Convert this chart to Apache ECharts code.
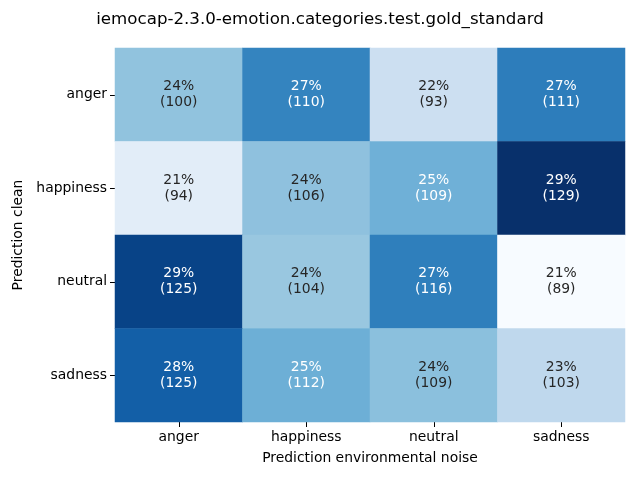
<!DOCTYPE html>
<html><head><meta charset="utf-8">
<script src="https://cdn.jsdelivr.net/npm/echarts@6/dist/echarts.min.js"></script>
<style>html,body{margin:0;padding:0;background:#fff}#c{width:640px;height:480px}</style>
</head><body><div id="c"></div>
<script>
const title = "iemocap-2.3.0-emotion.categories.test.gold_standard";
const xCategories = ["anger", "happiness", "neutral", "sadness"];
const yCategories = ["anger", "happiness", "neutral", "sadness"];
const xLabel = "Prediction environmental noise";
const yLabel = "Prediction clean";
// counts per row (Prediction clean) and column (Prediction environmental noise)
const countsAnger = [100, 110, 93, 111];
const countsHappiness = [94, 106, 109, 129];
const countsNeutral = [125, 104, 116, 89];
const countsSadness = [125, 112, 109, 103];
const pctAnger = [24, 27, 22, 27];
const pctHappiness = [21, 24, 25, 29];
const pctNeutral = [29, 24, 27, 21];
const pctSadness = [28, 25, 24, 23];

const rows = [countsAnger, countsHappiness, countsNeutral, countsSadness];
const pctRows = [pctAnger, pctHappiness, pctNeutral, pctSadness];
const blues = ['#f7fbff','#deebf7','#c6dbef','#9ecae1','#6baed6','#4292c6','#2171b5','#08519c','#08306b'];

const data = [];
let vmin = Infinity, vmax = -Infinity;
rows.forEach((r, yi) => {
  const tot = r.reduce((a, b) => a + b, 0);
  r.forEach((c, xi) => {
    const share = 100 * c / tot;
    vmin = Math.min(vmin, share); vmax = Math.max(vmax, share);
    data.push({xi, yi, share, c, pct: pctRows[yi][xi]});
  });
});
const seriesData = data.map(d => {
  const t = (d.share - vmin) / (vmax - vmin);
  return {
    value: [d.xi, d.yi, d.share],
    label: {color: t > 0.45 ? '#ffffff' : '#262626', formatter: d.pct + '%\n(' + d.c + ')'}
  };
});

const FS = 13.9;
const chart = echarts.init(document.getElementById('c'), null, {renderer: 'canvas'});
chart.setOption({
  animation: false,
  backgroundColor: '#ffffff',
  textStyle: {fontFamily: 'DejaVu Sans'},
  title: {text: title, left: 'center', top: 6, textStyle: {fontFamily: 'DejaVu Sans', fontSize: 16.67, fontWeight: 'normal', color: '#000'}},
  grid: {left: 115, right: 15, top: 48, bottom: 58},
  xAxis: {
    type: 'category', data: xCategories, name: xLabel, nameLocation: 'middle', nameGap: 29,
    nameTextStyle: {fontFamily: 'DejaVu Sans', fontSize: FS, color: '#000'},
    axisLine: {show: false},
    axisTick: {show: true, alignWithLabel: true, length: 5, lineStyle: {color: '#000'}},
    axisLabel: {fontFamily: 'DejaVu Sans', fontSize: FS, color: '#000', margin: 8},
    splitLine: {show: false}
  },
  yAxis: {
    type: 'category', data: yCategories, inverse: true, name: yLabel, nameLocation: 'middle', nameGap: 86,
    nameTextStyle: {fontFamily: 'DejaVu Sans', fontSize: FS, color: '#000'},
    axisLine: {show: false},
    axisTick: {show: true, alignWithLabel: true, length: 5, lineStyle: {color: '#000'}},
    axisLabel: {fontFamily: 'DejaVu Sans', fontSize: FS, color: '#000', margin: 8},
    splitLine: {show: false}
  },
  visualMap: {show: false, min: vmin, max: vmax, dimension: 2, inRange: {color: blues}},
  series: [{
    type: 'heatmap',
    data: seriesData,
    label: {show: true, fontFamily: 'DejaVu Sans', fontSize: FS, lineHeight: 16},
    itemStyle: {borderWidth: 0},
    emphasis: {disabled: true}
  }]
});
</script></body></html>
